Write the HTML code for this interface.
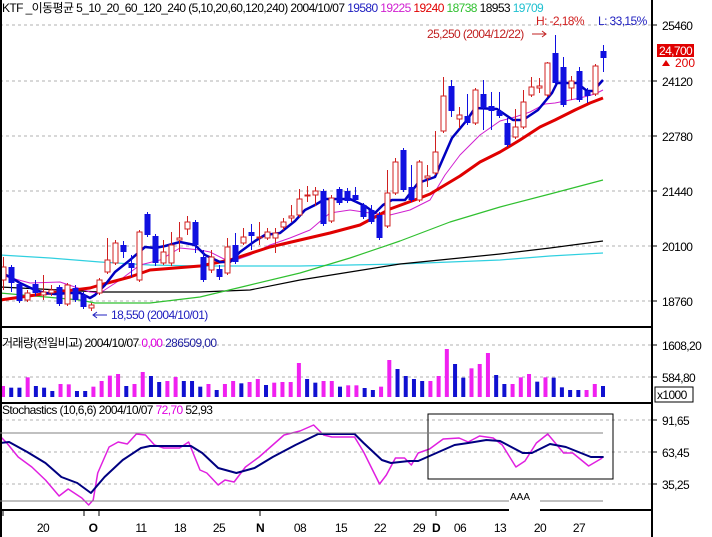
<!DOCTYPE html>
<html><head><meta charset="utf-8"><style>
html,body{margin:0;padding:0;background:#fff;}
svg{display:block;font-family:"Liberation Sans","Noto Sans CJK KR","NanumGothic",sans-serif;}
</style></head><body>
<svg id="s" width="712" height="537" viewBox="0 0 712 537" xmlns="http://www.w3.org/2000/svg">
<rect width="712" height="537" fill="#fff"/>
<!-- grid -->
<g stroke="#b0b0b0" stroke-dasharray="3,3" stroke-width="1">
<line x1="0" y1="25" x2="652" y2="25"/><line x1="0" y1="81" x2="652" y2="81"/>
<line x1="0" y1="136" x2="652" y2="136"/><line x1="0" y1="191" x2="652" y2="191"/>
<line x1="0" y1="246" x2="652" y2="246"/><line x1="0" y1="301" x2="652" y2="301"/>
<line x1="0" y1="345" x2="652" y2="345"/><line x1="0" y1="377" x2="652" y2="377"/>
<line x1="0" y1="420" x2="652" y2="420"/><line x1="0" y1="452" x2="652" y2="452"/><line x1="0" y1="484" x2="652" y2="484"/>
</g>
<g id="ma"></g>
<g id="cd"></g>
<g id="vol"></g>
<g id="st"></g>
<!-- frame -->
<g stroke="#000" fill="none">
<line x1="1" y1="0" x2="1" y2="537" stroke-width="2"/>
<line x1="652" y1="0" x2="652" y2="537" stroke-width="2"/>
<line x1="0" y1="327" x2="652" y2="327" stroke-width="2"/>
<line x1="0" y1="403" x2="652" y2="403" stroke-width="2"/>
<line x1="0" y1="510" x2="652" y2="510" stroke-width="2"/>
<rect x="428" y="414" width="185" height="65" stroke-width="1"/>
</g>
<g stroke="#808080">
<line x1="0" y1="433" x2="603" y2="433"/>
<line x1="0" y1="501" x2="509" y2="501"/><line x1="540" y1="501" x2="603" y2="501"/>
</g>
<rect x="509" y="496" width="31" height="41" fill="#fff"/>
<text x="510" y="500" font-size="10" fill="#000">AAA</text>
<!-- right axis ticks -->
<g stroke="#000">
<line x1="652" y1="25" x2="657" y2="25"/><line x1="652" y1="81" x2="657" y2="81"/><line x1="652" y1="136" x2="657" y2="136"/>
<line x1="652" y1="191" x2="657" y2="191"/><line x1="652" y1="246" x2="657" y2="246"/><line x1="652" y1="301" x2="657" y2="301"/>
<line x1="652" y1="345" x2="657" y2="345"/><line x1="652" y1="377" x2="657" y2="377"/>
<line x1="652" y1="420" x2="657" y2="420"/><line x1="652" y1="452" x2="657" y2="452"/><line x1="652" y1="484" x2="657" y2="484"/>
</g>
<g font-size="12" fill="#000" letter-spacing="-0.6">
<text x="662" y="30">25460</text><text x="662" y="86">24120</text><text x="662" y="141">22780</text>
<text x="662" y="196">21440</text><text x="662" y="251">20100</text><text x="662" y="306">18760</text>
<text x="662" y="350">1608,20</text><text x="662" y="382">584,80</text>
<text x="662" y="425">91,65</text><text x="662" y="457">63,45</text><text x="662" y="489">35,25</text>
</g>
<rect x="657" y="44" width="37" height="13" fill="#e00000"/>
<text x="659" y="55" font-size="12" fill="#fff" letter-spacing="-0.6">24,700</text>
<polygon points="662,66 666,60 670,66" fill="#e00000"/>
<text x="675" y="67" font-size="12" fill="#e00000">200</text>
<rect x="655" y="387" width="38" height="15" fill="#fff" stroke="#000"/>
<text x="657" y="399" font-size="12" fill="#000" letter-spacing="-0.6">x1000</text>
<!-- headers -->
<g font-size="12" letter-spacing="-0.6">
<text x="2" y="12" fill="#000">KTF _이동평균 5_10_20_60_120_240 (5,10,20,60,120,240) 2004/10/07 <tspan fill="#2020c0">19580</tspan> <tspan fill="#d020d0">19225</tspan> <tspan fill="#e00000">19240</tspan> <tspan fill="#30c030">18738</tspan> <tspan fill="#000">18953</tspan> <tspan fill="#20c0d0">19709</tspan></text>
<text x="536" y="25" fill="#d02020">H: -2,18%</text>
<text x="598" y="25" fill="#2020c0">L: 33,15%</text>
<text x="427" y="38" fill="#c02020">25,250 (2004/12/22)</text>
<text x="2" y="347" fill="#000">거래량(전일비교) 2004/10/07 <tspan fill="#e000e0">0,00</tspan> <tspan fill="#2020a0">286509,00</tspan></text>
<text x="2" y="414" fill="#000">Stochastics (10,6,6) 2004/10/07 <tspan fill="#e000e0">72,70</tspan> 52,93</text>
<text x="111" y="319" fill="#2020c0">18,550 (2004/10/01)</text>
</g>
<g stroke="#c02020" fill="none"><line x1="532" y1="34" x2="546" y2="34"/><polyline points="542,31 546,34 542,37"/></g>
<g stroke="#2020c0" fill="none"><line x1="93" y1="315" x2="107" y2="315"/><polyline points="97,312 93,315 97,318"/></g>
<!-- bottom axis -->
<g font-size="12" fill="#000" letter-spacing="-0.6" text-anchor="middle">
<text x="43" y="532">20</text><text x="93" y="532" font-weight="bold">O</text><text x="141" y="532">11</text>
<text x="180" y="532">18</text><text x="219" y="532">25</text><text x="260" y="532" font-weight="bold">N</text>
<text x="300" y="532">08</text><text x="341" y="532">15</text><text x="380" y="532">22</text>
<text x="419" y="532">29</text><text x="436" y="532" font-weight="bold">D</text><text x="460" y="532">06</text>
<text x="500" y="532">13</text><text x="540" y="532">20</text><text x="579" y="532">27</text>
</g>
<g stroke="#000">
<line x1="3" y1="511" x2="3" y2="516"/><line x1="84" y1="511" x2="84" y2="516"/><line x1="99" y1="511" x2="99" y2="516"/>
<line x1="260" y1="511" x2="260" y2="516"/><line x1="436" y1="511" x2="436" y2="516"/>
</g>
</svg>
<script>
var NS="http://www.w3.org/2000/svg";
function el(p,t,a){var e=document.createElementNS(NS,t);for(var k in a)e.setAttribute(k,a[k]);document.getElementById(p).appendChild(e);return e;}
function pl(p,pts,c,w){el(p,"polyline",{points:pts.map(function(q){return q.join(",")}).join(" "),fill:"none",stroke:c,"stroke-width":w,"stroke-linejoin":"round"});}
// MAs
pl("ma",[[0,255],[50,258],[100,262],[150,265],[200,266],[300,266],[350,265],[400,264],[450,262],[500,260],[550,256],[603,253]],"#30d0e0",1.2);
pl("ma",[[0,287],[100,292],[150,292],[200,292],[250,290],[300,280],[350,272],[400,264],[450,259],[500,254],[550,248],[603,241]],"#000",1.2);
pl("ma",[[0,293],[80,300],[95,303],[150,303],[200,297],[250,285],[300,273],[350,258],[400,241],[450,222],[500,207],[550,194],[603,180]],"#30c030",1.2);
pl("ma",[[0,275],[30,283],[60,282],[90,292],[100,293],[120,280],[140,265],[160,260],[180,248],[200,250],[210,252],[230,262],[250,255],[270,245],[290,238],[310,230],[330,213],[350,210],[370,213],[390,215],[410,210],[430,200],[445,175],[460,155],[480,135],[500,121],[515,117],[530,112],[545,104],[555,103],[565,101],[580,98],[595,94],[603,90]],"#d020d0",1);
pl("ma",[[0,300],[50,293],[90,288],[100,285],[130,277],[150,270],[200,266],[230,260],[270,247],[300,240],[330,233],[360,225],[390,209],[420,198],[430,194],[460,176],[480,162],[500,152],[520,140],[540,127],[555,120],[575,110],[590,103],[603,98]],"#e00000",3);
pl("ma",[[0,272],[10,277],[20,283],[35,290],[45,293],[55,294],[70,293],[80,293],[90,298],[95,295],[105,285],[115,272],[130,260],[145,247],[155,248],[165,246],[180,242],[195,245],[205,255],[220,262],[230,262],[240,252],[255,241],[265,235],[280,233],[295,221],[305,210],[315,205],[325,199],[350,199],[365,206],[375,213],[383,205],[392,200],[405,200],[418,183],[435,177],[452,138],[467,120],[475,108],[497,109],[513,120],[523,120],[538,110],[552,93],[557,83],[577,83],[587,91],[593,91],[603,80]],"#0000c0",2.5);
// candles
var C=[[3,'r',267,280,257,290],[11,'b',267,283,265,292],[19,'b',284,301,282,303],[27,'r',293,300,290,302],[35,'b',284,293,280,296],[43,'r',292,295,275,300],[51,'r',290,293,285,296],[59,'b',287,304,285,306],[67,'r',285,304,283,306],[75,'b',288,300,285,302],[83,'b',295,307,292,309],[91,'r',305,308,303,311],[99,'r',280,293,278,295],[107,'r',260,272,238,274],[115,'r',243,263,240,265],[123,'b',245,252,241,258],[131,'b',263,268,255,277],[139,'r',232,280,230,282],[147,'b',214,235,212,237],[155,'b',236,263,234,266],[163,'r',252,263,240,265],[171,'r',245,263,232,266],[179,'r',238,240,222,252],[187,'r',222,229,216,235],[195,'b',222,245,220,253],[203,'b',257,280,250,282],[211,'r',257,270,250,273],[219,'b',269,277,265,280],[227,'r',247,273,238,275],[235,'b',245,262,233,264],[243,'r',237,243,228,245],[251,'b',232,236,224,250],[259,'r',237,238,222,245],[267,'r',232,238,228,240],[275,'r',233,238,228,253],[283,'r',222,227,218,230],[291,'r',216,218,205,222],[299,'r',199,215,189,217],[307,'r',195,196,186,202],[315,'r',191,195,187,206],[323,'b',191,224,189,226],[331,'r',198,221,195,223],[339,'b',189,203,187,205],[347,'b',191,201,188,203],[355,'b',195,200,187,202],[363,'b',205,217,203,219],[371,'b',210,222,205,224],[379,'b',215,238,212,240],[387,'r',193,226,170,228],[395,'r',162,193,158,195],[403,'b',150,190,148,192],[411,'b',187,200,165,202],[419,'r',162,200,160,202],[427,'r',176,178,165,187],[435,'r',152,173,131,175],[443,'r',96,131,77,133],[451,'b',86,111,80,117],[459,'r',115,119,107,128],[467,'b',116,123,94,125],[475,'r',90,123,88,125],[483,'b',94,108,80,130],[491,'b',106,111,92,130],[499,'b',111,116,92,118],[507,'b',123,145,118,147],[515,'r',127,137,109,139],[523,'r',102,127,90,129],[531,'r',87,95,77,97],[539,'r',86,88,78,93],[547,'r',63,95,62,97],[555,'b',53,83,35,85],[563,'b',67,105,57,107],[571,'r',81,88,76,100],[579,'b',71,100,67,102],[587,'b',91,96,88,103],[595,'r',66,94,64,96],[603,'b',51,58,45,72]];
C.forEach(function(c){var col=c[1]=='r'?'#d02020':'#1010e0';
el("cd","line",{x1:c[0]+.5,y1:c[4],x2:c[0]+.5,y2:c[5],stroke:col,"stroke-width":1});
if(c[1]=='r')el("cd","rect",{x:c[0]-2,y:c[2],width:5,height:Math.max(1,c[3]-c[2]),fill:"#fff",stroke:col,"stroke-width":1});
else el("cd","rect",{x:c[0]-2.5,y:c[2],width:6,height:Math.max(2,c[3]-c[2]),fill:col});});
// volume
var V="m198 b203 b203 m172 b198 b203 b213 m192 m193 b213 b213 m200 m183 m167 m162 b198 m192 m156 b168 b186 m183 m171 b183 b183 b200 m192 b210 m192 m183 b190 m186 m177 b195 m188 m186 m186 m129 b177 b188 m183 m183 b200 m196 m196 b204 b210 m200 m120 b147 b168 b177 b183 m183 m168 m87 b132 b173 m145 m132 m99 b165 b192 m192 m172 m162 b185 m172 b173 b202 b210 b210 m210 m192 b198".split(" ");
var n=V.length;V.forEach(function(v,i){var x=3+i*600/(n-1);var t=320+parseInt(v.slice(1))/3;
el("vol","rect",{x:x-2,y:t,width:4,height:397-t,fill:v[0]=='m'?'#f020f0':'#1010d0'});});
// stochastics
function sx(a){return a.map(function(p){return [p[0]/2.2,p[1]];});}
pl("st",sx([[0,436],[15,443],[40,457],[70,467],[100,480],[130,496],[150,489],[180,498],[195,505],[205,500],[215,473],[240,447],[260,442],[280,444],[300,434],[320,435],[340,445],[360,448],[395,448],[415,442],[440,470],[455,473],[480,485],[495,480],[515,482],[540,467],[570,457],[600,445],[625,435],[660,431],[690,425],[712,435],[730,437],[780,437],[800,452],[835,484],[850,475],[870,458],[890,458],[905,465],[920,453],[945,449],[975,439],[1010,438],[1030,442],[1055,436],[1085,438],[1105,445],[1135,467],[1155,461],[1180,443],[1205,434],[1240,453],[1260,453],[1295,466],[1325,458]]),"#e020e0",1.5);
pl("st",sx([[0,443],[20,442],[60,452],[100,463],[135,477],[170,483],[200,493],[230,477],[270,460],[310,448],[330,446],[420,446],[445,453],[480,468],[520,473],[560,468],[600,457],[650,445],[700,434],[780,434],[800,443],[840,460],[860,463],[900,461],[920,461],[960,453],[1000,445],[1030,443],[1070,440],[1100,441],[1150,453],[1170,453],[1210,444],[1245,447],[1300,457],[1328,457]]),"#000080",2);
</script>
</body></html>
